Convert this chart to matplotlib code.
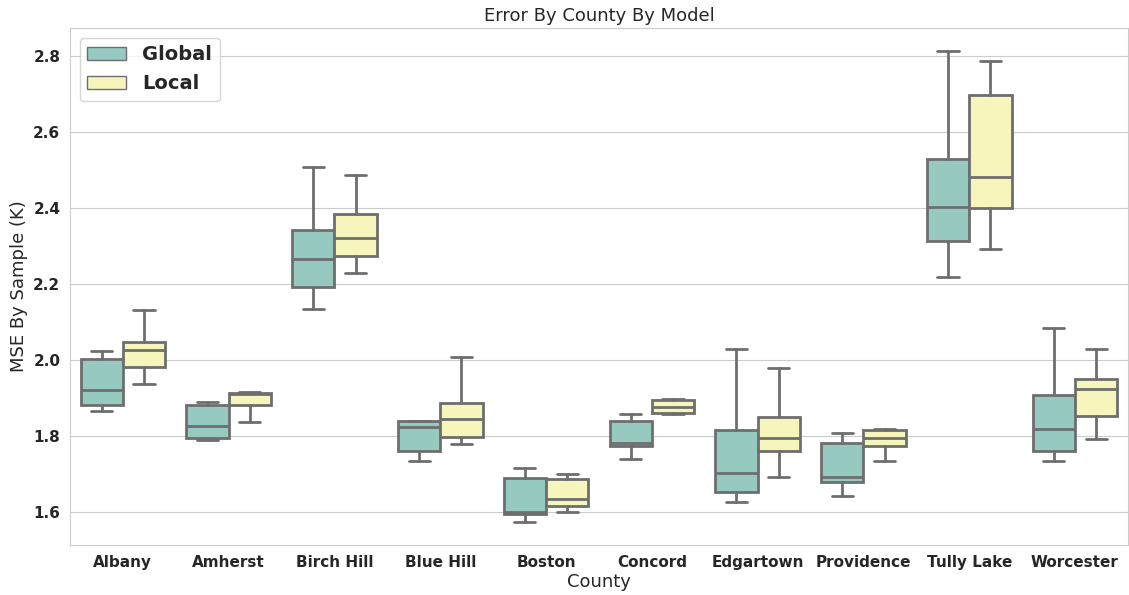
"""
Error by county by model, box plots from read-off quartiles
"""

import matplotlib.pyplot as plt
import numpy as np
import seaborn as sns

counties = ["Albany", "Amherst", "Birch Hill", "Blue Hill", "Boston",
            "Concord", "Edgartown", "Providence", "Tully Lake", "Worcester"]
models = ["Global", "Local"]

# per county: (whislo, q1, median, q3, whishi)
global_stats = [
    (1.866, 1.883, 1.921, 2.002, 2.025),
    (1.790, 1.795, 1.827, 1.881, 1.891),
    (2.136, 2.192, 2.266, 2.344, 2.509),
    (1.734, 1.760, 1.823, 1.840, 1.840),
    (1.575, 1.596, 1.601, 1.689, 1.717),
    (1.740, 1.775, 1.782, 1.840, 1.857),
    (1.627, 1.652, 1.702, 1.815, 2.030),
    (1.642, 1.680, 1.693, 1.782, 1.809),
    (2.220, 2.314, 2.404, 2.529, 2.813),
    (1.734, 1.760, 1.818, 1.907, 2.085),
]
local_stats = [
    (1.938, 1.983, 2.028, 2.048, 2.131),
    (1.838, 1.883, 1.910, 1.913, 1.916),
    (2.230, 2.275, 2.322, 2.385, 2.488),
    (1.780, 1.797, 1.844, 1.886, 2.007),
    (1.599, 1.615, 1.635, 1.687, 1.700),
    (1.858, 1.862, 1.877, 1.894, 1.897),
    (1.693, 1.760, 1.795, 1.849, 1.979),
    (1.734, 1.773, 1.795, 1.815, 1.818),
    (2.293, 2.400, 2.482, 2.698, 2.788),
    (1.792, 1.852, 1.924, 1.950, 2.029),
]

sns.set_style("whitegrid")
pal = sns.color_palette("Set3", 2)
colours = [sns.desaturate(c, 0.75) for c in pal]
line_col = "#6e6e6e"

fig, ax = plt.subplots(figsize=(11.29, 5.95), dpi=100)
fig.subplots_adjust(left=0.062, right=0.999, top=0.953, bottom=0.084)

width = 0.8 / len(models)
for m, stats_list in enumerate([global_stats, local_stats]):
    stats = [
        dict(whislo=s[0], q1=s[1], med=s[2], q3=s[3], whishi=s[4], fliers=[])
        for s in stats_list
    ]
    pos = np.arange(len(counties)) - 0.4 + width * (m + 0.5)
    ax.bxp(
        stats, positions=pos, widths=width, patch_artist=True,
        showfliers=False, manage_ticks=False,
        boxprops=dict(facecolor=colours[m], edgecolor=line_col, linewidth=2),
        medianprops=dict(color=line_col, linewidth=2),
        whiskerprops=dict(color=line_col, linewidth=2),
        capprops=dict(color=line_col, linewidth=2),
    )

ax.set_xlim(-0.5, len(counties) - 0.5)
ax.set_xticks(np.arange(len(counties)))
ax.set_xticklabels(counties, fontweight="bold", fontsize=11)
for lab in ax.get_yticklabels():
    lab.set_fontweight("bold")
ax.tick_params(axis="y", labelsize=11)
ax.xaxis.grid(False)
ax.set_axisbelow(True)

ax.set_xlabel("County", fontsize=13, labelpad=2)
ax.set_ylabel("MSE By Sample (K)", fontsize=13)
ax.set_title("Error By County By Model", fontsize=13, pad=5)

handles = [plt.Rectangle((0, 0), 1, 1, facecolor=colours[i], edgecolor=line_col)
           for i in range(len(models))]
ax.legend(handles, models, loc="upper left", prop={"weight": "bold", "size": 14})

fig.savefig("out.png")
